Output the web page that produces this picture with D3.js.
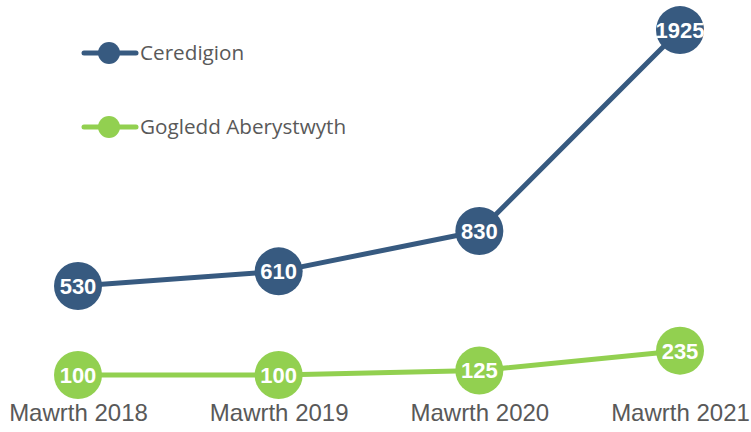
<!DOCTYPE html>
<html><head><meta charset="utf-8">
<script src="https://cdn.jsdelivr.net/npm/d3@7"></script>
<style>html,body{margin:0;padding:0;background:#fff;}svg{display:block;}</style>
</head><body>
<script>
const categories = ["Mawrth 2018", "Mawrth 2019", "Mawrth 2020", "Mawrth 2021"];
const ceredigion = [530, 610, 830, 1925];
const gogledd = [100, 100, 125, 235];
const seriesNames = ["Ceredigion", "Gogledd Aberystwyth"];
const colors = ["#375a80", "#92d050"];

const W = 751, H = 432;
const svg = d3.select("body").append("svg").attr("width", W).attr("height", H);

const x = d3.scalePoint().domain(categories).range([78, 680]);
const yPrimary = d3.scaleLinear().domain([0, 2000]).range([383.3, 16.3]);
const ySecondary = d3.scaleLinear().domain([0, 2000]).range([393, 33]);

const series = [
  {name: seriesNames[0], values: ceredigion, y: yPrimary, color: colors[0]},
  {name: seriesNames[1], values: gogledd, y: ySecondary, color: colors[1]}
];

// x axis labels
const xAxis = d3.axisBottom(x).tickSize(0).tickPadding(0);
const gx = svg.append("g").attr("transform", "translate(0,404)").call(xAxis);
gx.select(".domain").remove();
gx.selectAll("text").attr("font-family", "Liberation Sans, Arial, sans-serif")
  .attr("font-size", 24).attr("fill", "#595959").attr("dy", "0.71em");

series.forEach(s => {
  const line = d3.line().x((d, i) => x(categories[i])).y(d => s.y(d));
  svg.append("path").datum(s.values).attr("d", line)
    .attr("fill", "none").attr("stroke", s.color).attr("stroke-width", 5)
    .attr("stroke-linejoin", "round");
  const g = svg.append("g").selectAll("g").data(s.values).join("g")
    .attr("transform", (d, i) => `translate(${x(categories[i])},${s.y(d)})`);
  g.append("circle").attr("r", 24).attr("fill", s.color);
  g.append("text").text(d => d).attr("text-anchor", "middle").attr("dy", "0.36em")
    .attr("font-family", "Liberation Sans, Arial, sans-serif").attr("font-weight", "bold")
    .attr("font-size", 22).attr("fill", "#fff");
});

// legend
const legendY = [53, 127];
series.forEach((s, i) => {
  const g = svg.append("g").attr("transform", `translate(0,${legendY[i]})`);
  g.append("line").attr("x1", 84).attr("x2", 136).attr("y1", 0).attr("y2", 0)
    .attr("stroke", s.color).attr("stroke-width", 5).attr("stroke-linecap", "round");
  g.append("circle").attr("cx", 109).attr("cy", 0).attr("r", 11).attr("fill", s.color);
  g.append("text").attr("x", 140).attr("y", 0).attr("dy", "0.35em").text(s.name)
    .attr("font-family", "Open Sans, sans-serif").attr("font-size", 20.7).attr("fill", "#595959");
});
</script>
</body></html>
